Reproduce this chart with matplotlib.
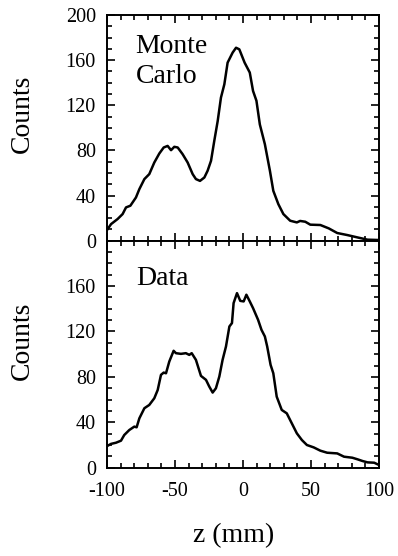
import numpy as np
import matplotlib
matplotlib.use("Agg")
import matplotlib.pyplot as plt
from matplotlib.ticker import MultipleLocator

plt.rcParams['font.family'] = ['Liberation Serif', 'DejaVu Serif']

# Monte Carlo z distribution
z_mc = [-100, -97, -92.2, -88.5, -86, -82.8, -78.7, -76.2, -72.5, -68.9,
        -65.2, -61.5, -58.3, -55.4, -52.9, -50.5, -48, -44.4, -40.7, -37,
        -34.6, -31.6, -28.4, -26, -23.5, -21.1, -18.6, -16.2, -13.7, -11.3,
        -7.6, -5.1, -2.7, 1.2, 5, 7.4, 9.9, 12.4, 16.1, 19.8,
        22.3, 26, 29.7, 34.7, 39.6, 42, 45.8, 49.5, 56.9, 63.1,
        69.3, 76.7, 84.2, 91.6, 100]
counts_mc = [9.4, 14.7, 19.2, 23.6, 29.5, 31, 38.3, 45.7, 54.6, 59,
             69.3, 77.3, 82.6, 84, 80.2, 83.2, 82.6, 76.7, 69.3, 59,
             54.6, 53, 56, 62, 70.8, 88.5, 106, 126.8, 138.6, 157.8,
             166.7, 171, 169.6, 157.8, 149, 132.7, 124, 103, 85.5, 62,
             44.2, 32.4, 23.6, 17.7, 16.2, 17.5, 16.8, 14.2, 13.9, 10.9,
             6.8, 5, 2.9, 0.9, 0.6]

# measured z distribution
z_data = [-100, -97, -93.4, -89.7, -87.3, -83.6, -79.9, -78.2, -76.2, -72.5,
          -68.9, -65.2, -62.7, -60.3, -58.3, -56.6, -54.2, -51, -49.3, -45.6,
          -42, -39.5, -37.7, -34.6, -30.9, -27.2, -24.8, -22.3, -19.9, -17.4,
          -15, -12.5, -10, -8.1, -6.9, -4.4, -2, 0.5, 2.5, 5,
          7.4, 11.1, 13.6, 16.1, 17.8, 20.3, 22.3, 24.8, 28.5, 32.2,
          35.9, 39.6, 43.3, 47, 52, 56.9, 61.9, 69.3, 74.3, 80.4,
          84.2, 87.9, 91.6, 96.5, 100]
counts_data = [19, 21, 22, 23.8, 28.8, 33.2, 36.2, 35.6, 43.5, 52.4,
               55.3, 61.2, 68.5, 81.8, 83.8, 83.2, 93.5, 103, 100.9, 100.3,
               100.9, 99.4, 100.9, 95, 80.9, 77.4, 71.5, 66.2, 70, 80.3,
               95, 106.8, 124.4, 127.4, 145, 153.8, 147, 146.5, 152.4, 146.5,
               140.6, 130.3, 121.5, 115.6, 106.8, 90.6, 83.2, 62.6, 50.9, 47.9,
               39.1, 30.3, 24.4, 20, 17.9, 15, 13.2, 12.6, 9.7, 8.8,
               7.4, 5.9, 4.7, 4.4, 2.4]

x_ticks = [-100, -50, 0, 50, 100]
y_ticks_top = [0, 40, 80, 120, 160, 200]
y_ticks_bot = [0, 40, 80, 120, 160]

fig = plt.figure(figsize=(3.98, 5.56), dpi=100)
ax1 = fig.add_axes([0.2688, 0.5671, 0.6834, 0.4059])
ax2 = fig.add_axes([0.2688, 0.1588, 0.6834, 0.4083], sharex=ax1)

ax1.plot(z_mc, counts_mc, color='black', lw=1.8)
ax2.plot(z_data, counts_data, color='black', lw=1.8)

for ax, yt in ((ax1, y_ticks_top), (ax2, y_ticks_bot)):
    ax.set_xlim(-100, 100)
    ax.set_ylim(0, 200)
    ax.set_yticks(yt)
    ax.xaxis.set_minor_locator(MultipleLocator(10))
    ax.yaxis.set_minor_locator(MultipleLocator(10))
    ax.tick_params(which='both', direction='in', top=True, right=True,
                   width=1.2, labelsize=14.5)
    ax.tick_params(axis='y', pad=8)
    ax.tick_params(axis='x', pad=10)
    ax.tick_params(which='major', length=6)
    ax.tick_params(which='minor', length=3.5)
    for s in ax.spines.values():
        s.set_linewidth(1.4)
    ax.set_ylabel('Counts', fontsize=20, va='center')
    ax.yaxis.set_label_coords(-0.31, 0.56)

ax2.set_xticks(x_ticks)
ax2.set_xticklabels([str(v) for v in x_ticks])
ax1.tick_params(labelbottom=False)
ax2.set_xlabel('z (mm)', fontsize=20, va='center')
ax2.xaxis.set_label_coords(0.467, -0.30)

ax1.text(0.105, 0.915, 'Monte\nCarlo', transform=ax1.transAxes,
         fontsize=20, ha='left', va='top', linespacing=1.25)
ax2.text(0.109, 0.805, 'Data', transform=ax2.transAxes,
         fontsize=20, ha='left', va='baseline')

fig.savefig('out.png', dpi=100)
